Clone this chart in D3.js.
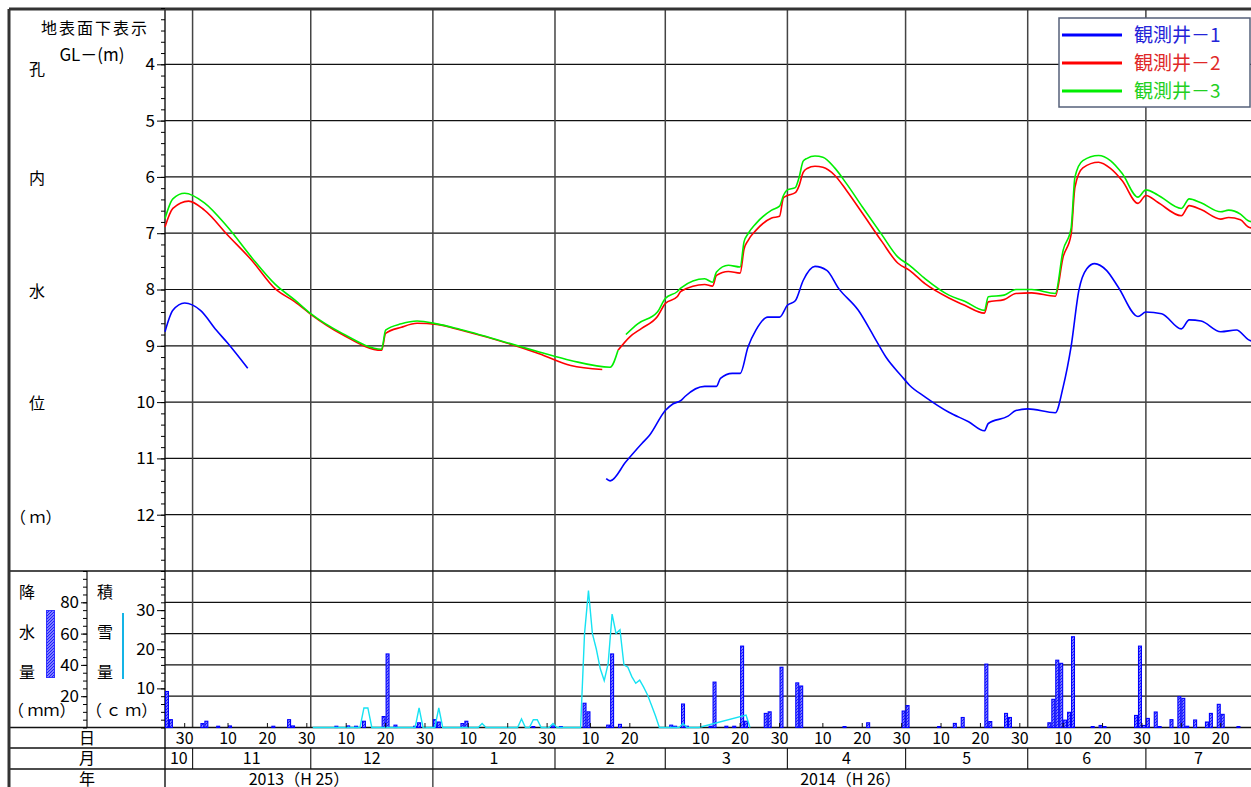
<!DOCTYPE html>
<html>
<head>
<meta charset="utf-8">
<script src="https://cdn.jsdelivr.net/npm/d3@7"></script>
<style>
  body { margin: 0; background: #fff; }
  svg text { font-family: "Noto Sans CJK JP", "Noto Sans", sans-serif; fill: #000; }
</style>
</head>
<body>
<div id="container"></div>
<script>
// groundwater level, GL- (m); null = gap in record
const well1 = [
  ["2013-10-25", 8.75], ["2013-10-27", 8.37], ["2013-10-30", 8.24], ["2013-11-03", 8.37],
  ["2013-11-07", 8.72], ["2013-11-10", 8.96], ["2013-11-15", 9.40], ["2013-11-16", null],
  ["2014-02-14", 11.36], ["2014-02-15", 11.40], ["2014-02-19", 11.06], ["2014-02-23", 10.74],
  ["2014-02-25", 10.59], ["2014-03-01", 10.15], ["2014-03-03", 10.03], ["2014-03-05", 9.97],
  ["2014-03-06", 9.90], ["2014-03-11", 9.72], ["2014-03-14", 9.72], ["2014-03-15", 9.58],
  ["2014-03-18", 9.49], ["2014-03-20", 9.49], ["2014-03-22", 9.02], ["2014-03-24", 8.72],
  ["2014-03-27", 8.49], ["2014-03-30", 8.49], ["2014-04-01", 8.28], ["2014-04-03", 8.20],
  ["2014-04-05", 7.84], ["2014-04-08", 7.59], ["2014-04-11", 7.66], ["2014-04-14", 7.98],
  ["2014-04-19", 8.37], ["2014-04-23", 8.84], ["2014-04-26", 9.20], ["2014-04-30", 9.54],
  ["2014-05-02", 9.70], ["2014-05-06", 9.91], ["2014-05-12", 10.18], ["2014-05-17", 10.35],
  ["2014-05-21", 10.51], ["2014-05-22", 10.38], ["2014-05-27", 10.25], ["2014-05-29", 10.15],
  ["2014-06-01", 10.12], ["2014-06-08", 10.19], ["2014-06-10", 9.73], ["2014-06-12", 9.02],
  ["2014-06-14", 8.01], ["2014-06-16", 7.63], ["2014-06-18", 7.54], ["2014-06-21", 7.66],
  ["2014-06-24", 7.96], ["2014-06-29", 8.48], ["2014-07-01", 8.40], ["2014-07-05", 8.43],
  ["2014-07-10", 8.70], ["2014-07-12", 8.54], ["2014-07-15", 8.56], ["2014-07-20", 8.75],
  ["2014-07-24", 8.72], ["2014-07-27", 8.89], ["2014-07-28", 8.92]
];
const well2 = [
  ["2013-10-25", 6.89], ["2013-10-27", 6.56], ["2013-10-31", 6.43], ["2013-11-04", 6.59],
  ["2013-11-10", 7.04], ["2013-11-16", 7.48], ["2013-11-22", 7.99], ["2013-11-27", 8.22],
  ["2013-12-01", 8.44], ["2013-12-09", 8.80], ["2013-12-19", 9.08], ["2013-12-20", 8.78],
  ["2013-12-24", 8.67], ["2013-12-28", 8.60], ["2014-01-02", 8.62], ["2014-01-08", 8.72],
  ["2014-01-28", 9.14], ["2014-02-05", 9.35], ["2014-02-13", 9.42], ["2014-02-14", null],
  ["2014-02-17", 9.08], ["2014-02-20", 8.84], ["2014-02-23", 8.69], ["2014-02-27", 8.48],
  ["2014-03-01", 8.25], ["2014-03-04", 8.13], ["2014-03-05", 8.03], ["2014-03-11", 7.91],
  ["2014-03-13", 7.94], ["2014-03-14", 7.75], ["2014-03-17", 7.68], ["2014-03-20", 7.71],
  ["2014-03-21", 7.28], ["2014-03-22", 7.13], ["2014-03-24", 6.95], ["2014-03-28", 6.73],
  ["2014-03-30", 6.70], ["2014-03-31", 6.37], ["2014-04-01", 6.33], ["2014-04-03", 6.28],
  ["2014-04-04", 6.15], ["2014-04-05", 5.92], ["2014-04-06", 5.85], ["2014-04-08", 5.81],
  ["2014-04-10", 5.83], ["2014-04-13", 5.97], ["2014-04-16", 6.24], ["2014-04-20", 6.64],
  ["2014-04-25", 7.15], ["2014-04-29", 7.53], ["2014-05-02", 7.66], ["2014-05-06", 7.90],
  ["2014-05-12", 8.15], ["2014-05-16", 8.28], ["2014-05-21", 8.42], ["2014-05-22", 8.22],
  ["2014-05-26", 8.18], ["2014-05-29", 8.07], ["2014-06-02", 8.06], ["2014-06-08", 8.12],
  ["2014-06-10", 7.42], ["2014-06-12", 7.03], ["2014-06-13", 6.18], ["2014-06-15", 5.84],
  ["2014-06-19", 5.74], ["2014-06-22", 5.85], ["2014-06-25", 6.07], ["2014-06-29", 6.47],
  ["2014-07-01", 6.33], ["2014-07-04", 6.45], ["2014-07-10", 6.69], ["2014-07-12", 6.51],
  ["2014-07-15", 6.58], ["2014-07-20", 6.75], ["2014-07-22", 6.72], ["2014-07-25", 6.76],
  ["2014-07-27", 6.89], ["2014-07-28", 6.91]
];
const well3 = [
  ["2013-10-25", 6.74], ["2013-10-27", 6.39], ["2013-10-30", 6.29], ["2013-11-04", 6.46],
  ["2013-11-10", 6.90], ["2013-11-16", 7.43], ["2013-11-22", 7.91], ["2013-11-27", 8.19],
  ["2013-12-01", 8.43], ["2013-12-09", 8.78], ["2013-12-19", 9.06], ["2013-12-20", 8.72],
  ["2013-12-24", 8.61], ["2013-12-28", 8.56], ["2014-01-02", 8.61], ["2014-01-08", 8.71],
  ["2014-01-28", 9.11], ["2014-02-05", 9.26], ["2014-02-15", 9.38], ["2014-02-17", 9.08],
  ["2014-02-18", null], ["2014-02-19", 8.80], ["2014-02-22", 8.61], ["2014-02-27", 8.40],
  ["2014-03-01", 8.16], ["2014-03-04", 8.04], ["2014-03-05", 7.97], ["2014-03-11", 7.81],
  ["2014-03-13", 7.87], ["2014-03-14", 7.69], ["2014-03-17", 7.57], ["2014-03-20", 7.60],
  ["2014-03-21", 7.15], ["2014-03-22", 7.01], ["2014-03-24", 6.83], ["2014-03-28", 6.59],
  ["2014-03-30", 6.52], ["2014-03-31", 6.33], ["2014-04-01", 6.23], ["2014-04-03", 6.19],
  ["2014-04-04", 6.00], ["2014-04-05", 5.72], ["2014-04-06", 5.67], ["2014-04-08", 5.63],
  ["2014-04-10", 5.65], ["2014-04-13", 5.84], ["2014-04-16", 6.12], ["2014-04-20", 6.53],
  ["2014-04-25", 7.03], ["2014-04-29", 7.42], ["2014-05-02", 7.57], ["2014-05-06", 7.81],
  ["2014-05-12", 8.10], ["2014-05-16", 8.21], ["2014-05-21", 8.37], ["2014-05-22", 8.13],
  ["2014-05-26", 8.10], ["2014-05-29", 8.00], ["2014-06-02", 8.00], ["2014-06-08", 8.07],
  ["2014-06-10", 7.30], ["2014-06-12", 6.92], ["2014-06-13", 6.00], ["2014-06-15", 5.71],
  ["2014-06-19", 5.62], ["2014-06-22", 5.71], ["2014-06-25", 5.94], ["2014-06-29", 6.36],
  ["2014-07-01", 6.23], ["2014-07-04", 6.32], ["2014-07-10", 6.56], ["2014-07-12", 6.39],
  ["2014-07-15", 6.46], ["2014-07-20", 6.62], ["2014-07-22", 6.59], ["2014-07-25", 6.66],
  ["2014-07-27", 6.78], ["2014-07-28", 6.80]
];
// daily precipitation (mm)
const rain = [
  ["2013-10-25", 23], ["2013-10-26", 5], ["2013-11-03", 2.5], ["2013-11-04", 4], ["2013-11-07", 0.8],
  ["2013-11-10", 1], ["2013-11-21", 0.8], ["2013-11-25", 5], ["2013-11-26", 1], ["2013-12-07", 0.8],
  ["2013-12-10", 1], ["2013-12-12", 0.8], ["2013-12-14", 4], ["2013-12-19", 7], ["2013-12-20", 47],
  ["2013-12-22", 1.5], ["2013-12-27", 0.8], ["2013-12-28", 3], ["2014-01-01", 5], ["2014-01-02", 3.5],
  ["2014-01-08", 2.5], ["2014-01-09", 4], ["2014-01-26", 0.6], ["2014-01-31", 1], ["2014-02-02", 0.6],
  ["2014-02-08", 15.5], ["2014-02-09", 10], ["2014-02-14", 1.5], ["2014-02-15", 47], ["2014-02-17", 2],
  ["2014-03-02", 1.5], ["2014-03-03", 0.8], ["2014-03-05", 15], ["2014-03-06", 0.8], ["2014-03-12", 0.8],
  ["2014-03-13", 29], ["2014-03-16", 0.8], ["2014-03-18", 0.8], ["2014-03-20", 52], ["2014-03-21", 4],
  ["2014-03-26", 9], ["2014-03-27", 10], ["2014-03-30", 38.5], ["2014-04-03", 28.5], ["2014-04-04", 26.5],
  ["2014-04-15", 0.6], ["2014-04-21", 3], ["2014-04-30", 10.5], ["2014-05-01", 14], ["2014-05-09", 0.6],
  ["2014-05-13", 2.6], ["2014-05-15", 6.4], ["2014-05-21", 40.5], ["2014-05-22", 3.8], ["2014-05-26", 9],
  ["2014-05-27", 6.4], ["2014-06-06", 3], ["2014-06-07", 18], ["2014-06-08", 43], ["2014-06-09", 41],
  ["2014-06-10", 4.7], ["2014-06-11", 9.7], ["2014-06-12", 58], ["2014-06-17", 0.6], ["2014-06-19", 1.3],
  ["2014-06-20", 0.6], ["2014-06-28", 7.7], ["2014-06-29", 52], ["2014-06-30", 1.3], ["2014-07-01", 5.8],
  ["2014-07-03", 9.9], ["2014-07-04", 0.6], ["2014-07-07", 5], ["2014-07-09", 19.7], ["2014-07-10", 18.6],
  ["2014-07-11", 0.8], ["2014-07-13", 4.8], ["2014-07-16", 3.5], ["2014-07-17", 9], ["2014-07-19", 14.8],
  ["2014-07-20", 8.4], ["2014-07-24", 0.6]
];
// snow depth (cm), daily at noon
const snow = [
  ["2013-12-01", 0], ["2013-12-13", 0], ["2013-12-14", 5], ["2013-12-15", 5], ["2013-12-16", 0],
  ["2013-12-27", 0], ["2013-12-28", 5], ["2013-12-29", 0], ["2014-01-01", 0], ["2014-01-02", 5],
  ["2014-01-03", 0], ["2014-01-12", 0], ["2014-01-13", 1], ["2014-01-14", 0], ["2014-01-22", 0],
  ["2014-01-23", 2.2], ["2014-01-24", 0], ["2014-01-25", 0], ["2014-01-26", 2], ["2014-01-27", 2],
  ["2014-01-28", 0], ["2014-01-30", 0], ["2014-01-31", 1], ["2014-02-01", 0], ["2014-02-07", 0],
  ["2014-02-08", 24], ["2014-02-09", 35], ["2014-02-10", 24], ["2014-02-11", 20], ["2014-02-12", 15],
  ["2014-02-13", 12], ["2014-02-14", 16.4], ["2014-02-15", 29], ["2014-02-16", 24], ["2014-02-17", 25],
  ["2014-02-18", 16], ["2014-02-19", 15.4], ["2014-02-20", 13], ["2014-02-21", 11.3], ["2014-02-22", 12.1],
  ["2014-02-23", 10.3], ["2014-02-24", 8.3], ["2014-02-25", 5.7], ["2014-02-26", 3], ["2014-02-27", 0],
  ["2014-03-04", 0], ["2014-03-05", 1], ["2014-03-06", 0], ["2014-03-09", 0], ["2014-03-21", 3.2],
  ["2014-03-22", 0]
];

const wellNames = ["観測井－1", "観測井－2", "観測井－3"];
const levelTicks = [4, 5, 6, 7, 8, 9, 10, 11, 12];
const rainTicks = [20, 40, 60, 80];
const snowTicks = [10, 20, 30];
const dayTicks = [10, 20, 30];
const years = [["2013（H 25）", "2013-10-25", "2014-01-01"], ["2014（H 26）", "2014-01-01", "2014-08-01"]];

var width = 1251;
var height = 787;
var colors = ["#0000ff", "#ff0000", "#00ee00"];
var textColors = ["#2424d8", "#e02828", "#22d022"];

var parse = d3.timeParse("%Y-%m-%d");
var start = parse("2013-10-25");
var end = parse("2014-08-01");

// scales
var x = d3.scaleTime().domain([start, end]).range([165, 1268]);
var y = d3.scaleLinear().domain([3, 13]).range([8, 571]);
var yRain = d3.scaleLinear().domain([0, 100]).range([727.5, 571]);
var ySnow = d3.scaleLinear().domain([0, 40]).range([727.5, 571]);
var noon = (s) => d3.timeHour.offset(parse(s), 12);

var svg = d3
  .select("div#container")
  .append("svg")
  .attr("width", width)
  .attr("height", height)
  .style("display", "block");

// hatch fill for the rain bars
var pat = svg.append("defs").append("pattern")
  .attr("id", "hatch")
  .attr("patternUnits", "userSpaceOnUse")
  .attr("width", 3)
  .attr("height", 3);
pat.append("rect").attr("width", 3).attr("height", 3).attr("fill", "#dcdcff");
pat.append("path")
  .attr("d", "M-1,1 L1,-1 M0,3 L3,0 M2,4 L4,2")
  .attr("stroke", "#1c1cff")
  .attr("stroke-width", 1.4);

// grid
var grid = svg.append("g");
grid.selectAll(".lv").data(levelTicks).enter().append("line")
  .attr("x1", 165).attr("x2", width)
  .attr("y1", (d) => y(d)).attr("y2", (d) => y(d))
  .attr("stroke", "#111").attr("stroke-width", 1.2);
grid.selectAll(".rn").data(rainTicks).enter().append("line")
  .attr("x1", 165).attr("x2", width)
  .attr("y1", (d) => yRain(d)).attr("y2", (d) => yRain(d))
  .attr("stroke", "#111").attr("stroke-width", 1.2);

var months = d3.timeMonths(start, end);
grid.selectAll(".mv").data(months).enter().append("line")
  .attr("x1", (d) => x(d)).attr("x2", (d) => x(d))
  .attr("y1", 9).attr("y2", 727.5)
  .attr("stroke", "#444").attr("stroke-width", 1.5);
grid.selectAll(".ms").data(months).enter().append("line")
  .attr("x1", (d) => x(d)).attr("x2", (d) => x(d))
  .attr("y1", 748).attr("y2", 769)
  .attr("stroke", "#222").attr("stroke-width", 1.2);
grid.selectAll(".ys").data(years.slice(1)).enter().append("line")
  .attr("x1", (d) => x(parse(d[1]))).attr("x2", (d) => x(parse(d[1])))
  .attr("y1", 769).attr("y2", height)
  .attr("stroke", "#222").attr("stroke-width", 1.2);

// frame
var frame = svg.append("g").attr("stroke", "#111");
[571, 727.5, 748, 769].forEach((yy) => {
  frame.append("line").attr("x1", 9).attr("x2", width).attr("y1", yy).attr("y2", yy).attr("stroke-width", 1.4);
});
frame.append("line").attr("x1", 165).attr("x2", 165).attr("y1", 9).attr("y2", height).attr("stroke-width", 1.4);
frame.append("line").attr("x1", 87).attr("x2", 87).attr("y1", 571).attr("y2", 727.5).attr("stroke-width", 1.2);
frame.append("line").attr("x1", 9).attr("x2", width).attr("y1", 9).attr("y2", 9).attr("stroke-width", 3).attr("stroke", "#333");
frame.append("line").attr("x1", 9).attr("x2", 9).attr("y1", 9).attr("y2", height).attr("stroke-width", 3).attr("stroke", "#333");

// axes
function leftAxis(scale, at, major, minor, big) {
  svg.append("g").attr("transform", `translate(${at},0)`)
    .call(d3.axisLeft(scale).tickValues(minor).tickSize(4).tickFormat(""))
    .call((g) => g.select(".domain").remove());
  var g = svg.append("g").attr("transform", `translate(${at},0)`)
    .call(d3.axisLeft(scale).tickValues(major).tickSize(big).tickPadding(2))
    .call((g) => g.select(".domain").remove());
  g.selectAll("text").attr("font-size", 17);
}
leftAxis(y, 165, levelTicks, d3.range(30, 131, 2).map((v) => v / 10), 8);
leftAxis(yRain, 87, rainTicks, d3.range(0, 101, 5), 6);
leftAxis(ySnow, 165, snowTicks, d3.range(0, 41, 2), 8);

// rain bars
svg.append("g").selectAll("rect").data(rain).enter().append("rect")
  .attr("x", (d) => x(parse(d[0])) + 0.5)
  .attr("width", (d) => x(d3.timeDay.offset(parse(d[0]), 1)) - x(parse(d[0])) - 1)
  .attr("y", (d) => yRain(d[1]))
  .attr("height", (d) => yRain(0) - yRain(d[1]))
  .attr("fill", "url(#hatch)")
  .attr("stroke", "#0000ff")
  .attr("stroke-width", 1.1);

// snow depth
var snowLine = d3.line().x((d) => x(noon(d[0]))).y((d) => ySnow(d[1]));
svg.append("path").datum(snow)
  .attr("d", snowLine)
  .attr("fill", "none")
  .attr("stroke", "#16e2f2")
  .attr("stroke-width", 1.4);

// wells
var wellLine = d3.line()
  .defined((d) => d[1] != null)
  .curve(d3.curveMonotoneX)
  .x((d) => x(parse(d[0])))
  .y((d) => y(d[1]));
[well1, well2, well3].forEach((w, i) => {
  svg.append("path").datum(w)
    .attr("d", wellLine)
    .attr("fill", "none")
    .attr("stroke", colors[i])
    .attr("stroke-width", 1.6)
    .attr("stroke-linejoin", "round");
});

// date rows
var days = d3.timeDays(start, end).filter((d) => dayTicks.includes(d.getDate()) && x(d) < width);
svg.append("g").selectAll("line").data(days).enter().append("line")
  .attr("x1", (d) => x(d)).attr("x2", (d) => x(d))
  .attr("y1", 727.5).attr("y2", 723)
  .attr("stroke", "#111");
svg.append("g").selectAll("text").data(days).enter().append("text")
  .attr("x", (d) => x(d)).attr("y", 744)
  .attr("text-anchor", "middle").attr("font-size", 16)
  .text((d) => d.getDate());

var monthCells = [start].concat(months);
svg.append("g").selectAll("text").data(monthCells).enter().append("text")
  .attr("x", (d) => (x(d) + Math.min(width, x(d3.timeMonth.offset(d3.timeMonth.floor(d), 1)))) / 2)
  .attr("y", 764)
  .attr("text-anchor", "middle").attr("font-size", 16)
  .text((d) => d.getMonth() + 1);

svg.append("g").selectAll("text").data(years).enter().append("text")
  .attr("x", (d) => (x(parse(d[1])) + x(parse(d[2]))) / 2)
  .attr("y", 785)
  .attr("text-anchor", "middle").attr("font-size", 16)
  .text((d) => d[0]);

// row and panel captions
var cap = svg.append("g").attr("font-size", 16).attr("text-anchor", "middle");
cap.append("text").attr("x", 87).attr("y", 744).text("日");
cap.append("text").attr("x", 87).attr("y", 764).text("月");
cap.append("text").attr("x", 87).attr("y", 785).text("年");
cap.append("text").attr("x", 95).attr("y", 34).attr("letter-spacing", 2).text("地表面下表示");
cap.append("text").attr("x", 92).attr("y", 61).attr("font-size", 17).text("GL－(m)");
[["孔", 75], ["内", 184], ["水", 297], ["位", 409]].forEach((c) => {
  cap.append("text").attr("x", 37).attr("y", c[1]).text(c[0]);
});
cap.append("text").attr("x", 10).attr("y", 523).attr("text-anchor", "start").text("（ ｍ）");
[["降", 598], ["水", 638], ["量", 678]].forEach((c) => {
  cap.append("text").attr("x", 27).attr("y", c[1]).text(c[0]);
});
[["積", 598], ["雪", 638], ["量", 678]].forEach((c) => {
  cap.append("text").attr("x", 105).attr("y", c[1]).text(c[0]);
});
cap.append("text").attr("x", 8).attr("y", 716).attr("text-anchor", "start").text("（ ｍｍ）");
cap.append("text").attr("x", 86).attr("y", 716).attr("text-anchor", "start").text("（ ｃ ｍ）");

// small keys for rain / snow
svg.append("rect").attr("x", 46.5).attr("y", 610.5).attr("width", 8).attr("height", 67)
  .attr("fill", "url(#hatch)").attr("stroke", "#3030ff");
svg.append("line").attr("x1", 123).attr("x2", 123).attr("y1", 613).attr("y2", 679)
  .attr("stroke", "#14b4e6").attr("stroke-width", 2);

// legend
var lg = svg.append("g");
lg.append("rect").attr("x", 1059).attr("y", 18).attr("width", 191).attr("height", 89)
  .attr("fill", "#fff").attr("stroke", "#55607a").attr("stroke-width", 1.5);
wellNames.forEach((n, i) => {
  var yy = 35 + i * 28;
  lg.append("line").attr("x1", 1062).attr("x2", 1122).attr("y1", yy).attr("y2", yy)
    .attr("stroke", colors[i]).attr("stroke-width", 3);
  lg.append("text").attr("x", 1134).attr("y", yy + 7).attr("font-size", 19)
    .style("fill", textColors[i]).text(n);
});
</script>
</body>
</html>
